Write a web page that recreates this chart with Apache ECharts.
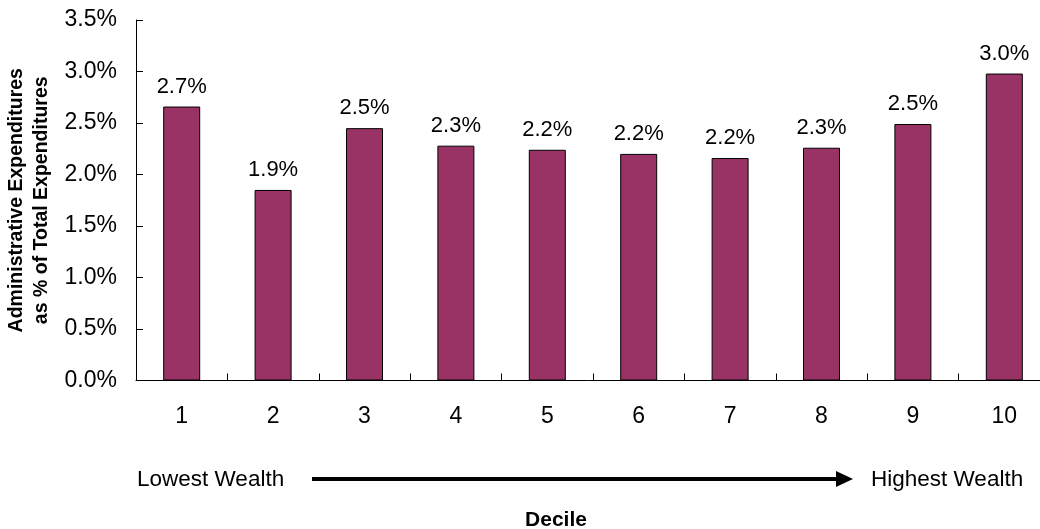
<!DOCTYPE html>
<html>
<head>
<meta charset="utf-8">
<script src="https://cdn.jsdelivr.net/npm/echarts@6/dist/echarts.min.js"></script>
<style>
html,body{margin:0;padding:0;background:#fff;}
#chart{width:1040px;height:529px;}
</style>
</head>
<body>
<div id="chart"></div>
<script>
const categories = ['1','2','3','4','5','6','7','8','9','10'];
const values = [2.66, 1.85, 2.45, 2.28, 2.24, 2.20, 2.16, 2.26, 2.49, 2.98];
const yTicks = {min: 0, max: 3.5, interval: 0.5};
const yTitle = 'Administrative Expenditures\nas % of Total Expenditures';
const xTitle = 'Decile';
const lowLabel = 'Lowest Wealth';
const highLabel = 'Highest Wealth';

const font = 'Liberation Sans, Arial, sans-serif';
const chart = echarts.init(document.getElementById('chart'), null, {renderer: 'canvas'});
chart.setOption({
  animation: false,
  backgroundColor: '#fff',
  grid: {left: 136, top: 20, width: 914, height: 360.5, containLabel: false, outerBoundsMode: 'none'},
  xAxis: {
    type: 'category',
    data: categories,
    axisLine: {lineStyle: {color: '#000', width: 1}},
    axisTick: {show: true, inside: true, length: 7, alignWithLabel: false, lineStyle: {color: '#000'}},
    axisLabel: {color: '#000', fontSize: 23, fontFamily: font, margin: 25},
    splitLine: {show: false}
  },
  yAxis: {
    type: 'value',
    min: yTicks.min, max: yTicks.max, interval: yTicks.interval,
    axisLine: {show: true, lineStyle: {color: '#000', width: 1}},
    axisTick: {show: true, inside: true, length: 7, lineStyle: {color: '#000'}},
    axisLabel: {color: '#000', fontSize: 23, fontFamily: font, margin: 19,
      formatter: v => v.toFixed(1) + '%'},
    splitLine: {show: false},
    name: yTitle,
    nameLocation: 'middle',
    nameGap: 78,
    nameRotate: 90,
    nameTextStyle: {color: '#000', fontSize: 19.5, fontWeight: 'bold', fontFamily: font, lineHeight: 24.5}
  },
  series: [{
    type: 'bar',
    data: values,
    barWidth: 37,
    itemStyle: {color: '#993366', borderColor: '#000', borderWidth: 1},
    label: {show: true, position: 'top', distance: 9, color: '#000', fontSize: 22, fontFamily: font,
      formatter: p => p.value.toFixed(1) + '%'}
  }],
  graphic: [
    {type: 'text', x: 137, y: 480, style: {text: lowLabel, fill: '#000', font: '22.5px ' + font, verticalAlign: 'middle'}},
    {type: 'text', x: 871, y: 480, style: {text: highLabel, fill: '#000', font: '22.5px ' + font, verticalAlign: 'middle'}},
    {type: 'line', shape: {x1: 312, y1: 479, x2: 840, y2: 479}, style: {stroke: '#000', lineWidth: 4}},
    {type: 'polygon', shape: {points: [[836, 471], [853, 479], [836, 487]]}, style: {fill: '#000'}},
    {type: 'text', x: 556, y: 520, style: {text: xTitle, fill: '#000', font: 'bold 21px ' + font, align: 'center', verticalAlign: 'middle'}}
  ]
});
</script>
</body>
</html>
